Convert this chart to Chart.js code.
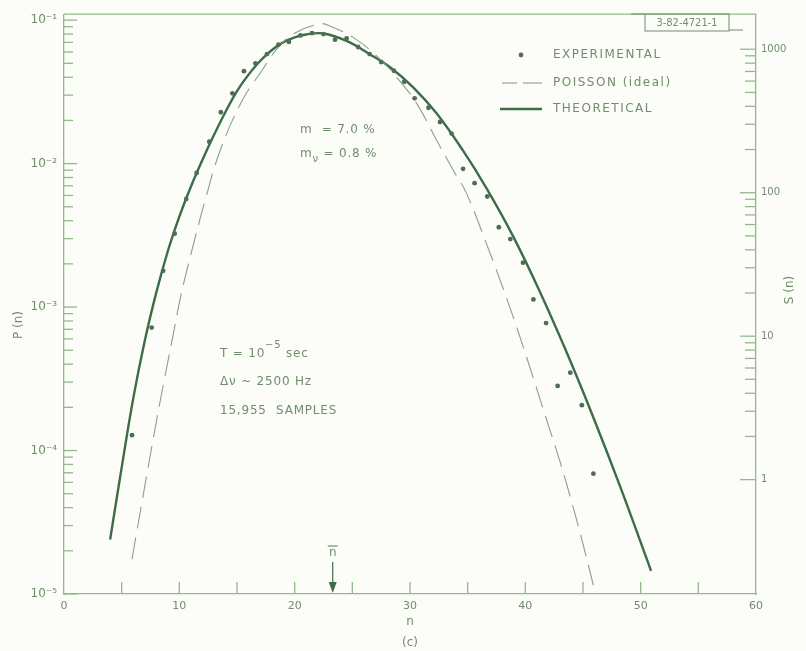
<!DOCTYPE html>
<html>
<head>
<meta charset="UTF-8">
<title>P(n) - photocount distribution</title>
<script src="https://cdn.jsdelivr.net/npm/chart.js"></script>
<style>
  html, body { margin: 0; padding: 0; background: #fcfdf9; }
</style>
</head>
<body>
<canvas id="pn" width="806" height="651"></canvas>
<script>
// values
const samples = 15955;
const nBar = 23.3;

const expN = [5.9, 7.6, 8.6, 9.6, 10.6, 11.5, 12.6, 13.6, 14.6, 15.6, 16.6, 17.6, 18.6, 19.5, 20.5,
  21.5, 22.5, 23.5, 24.5, 25.5, 26.5, 27.5, 28.6, 29.5, 30.4, 31.6, 32.6, 33.6, 34.6, 35.6,
  36.7, 37.7, 38.7, 39.8, 40.7, 41.8, 42.8, 43.9, 44.9, 45.9];
const expP = [1.28e-4, 7.2e-4, 1.79e-3, 3.25e-3, 5.67e-3, 8.6e-3, 1.42e-2, 2.28e-2, 3.09e-2, 4.41e-2,
  4.99e-2, 5.8e-2, 6.76e-2, 7.05e-2, 7.83e-2, 8.13e-2, 8.0e-2, 7.31e-2, 7.45e-2, 6.5e-2,
  5.8e-2, 5.1e-2, 4.44e-2, 3.72e-2, 2.85e-2, 2.45e-2, 1.95e-2, 1.62e-2, 9.2e-3, 7.3e-3,
  5.9e-3, 3.6e-3, 2.98e-3, 2.04e-3, 1.13e-3, 7.74e-4, 2.82e-4, 3.49e-4, 2.07e-4, 6.9e-5];

const theoN = [4.0, 5.0, 6.0, 7.0, 8.0, 9.0, 10.0, 11.0, 12.0, 13.0, 14.0, 15.0, 16.0, 17.0, 18.0,
  19.0, 20.0, 21.0, 22.5, 24.5, 26.5, 28.3, 30.3, 32.3, 34.6, 36.6, 38.9, 41.3, 43.6, 45.9, 48.3, 50.9];
const theoP = [2.4e-5, 7.6e-5, 2.3e-4, 5.8e-4, 1.26e-3, 2.45e-3, 4.27e-3, 6.9e-3, 1.06e-2, 1.58e-2,
  2.29e-2, 3.2e-2, 4.17e-2, 5.19e-2, 6.17e-2, 7.0e-2, 7.59e-2, 7.94e-2, 8.07e-2, 7.16e-2,
  5.79e-2, 4.68e-2, 3.39e-2, 2.24e-2, 1.23e-2, 6.8e-3, 3.16e-3, 1.26e-3, 4.8e-4, 1.7e-4, 5.4e-5, 1.45e-5];

const poissonN = [5.9, 6.2, 7.8, 8.6, 9.5, 10.1, 11.1, 12.25, 13.55, 15.45, 17.15, 18.45, 19.9, 22.2,
  23.1, 25.1, 27.1, 28.85, 30.6, 32.3, 33.75, 34.9, 36.6, 38.4, 40.1, 41.8, 43.0, 43.85, 45.0, 45.9];
const poissonP = [1.75e-5, 2.42e-5, 1.29e-4, 2.84e-4, 6.6e-4, 1.17e-3, 2.5e-3, 5.6e-3, 1.24e-2, 2.75e-2,
  4.44e-2, 6.27e-2, 8.04e-2, 9.42e-2, 9.08e-2, 7.55e-2, 5.64e-2, 3.99e-2, 2.61e-2, 1.46e-2,
  9.0e-3, 6.2e-3, 2.8e-3, 1.14e-3, 4.5e-4, 1.68e-4, 8.4e-5, 4.9e-5, 2.23e-5, 1.15e-5];

const pMin = 1e-5, pMax = 0.11;

const frame = '#93b98b';
const ink = '#718d6c';
const curve = '#3f6c48';
const dashed = '#86a186';
const dots = '#4f6d55';
const font = '"DejaVu Sans", sans-serif';

const isDecade = v => Math.abs(Math.log10(v) - Math.round(Math.log10(v))) < 1e-6;
const supDigits = { '-': '\u207B', '0': '\u2070', '1': '\u00B9', '2': '\u00B2', '3': '\u00B3', '4': '\u2074', '5': '\u2075' };
const powLabel = v => '10' + String(Math.round(Math.log10(v))).split('').map(c => supDigits[c]).join('');

function runs(ctx, x, y, parts) {
  let cx = x;
  for (const [t, dy, size] of parts) {
    ctx.font = size + 'px ' + font;
    ctx.fillText(t, cx, y + dy);
    cx += ctx.measureText(t).width;
  }
}

const paperMarks = {
  id: 'paperMarks',
  afterDraw(chart) {
    const { ctx, chartArea: a, scales: { x, y, y1 } } = chart;
    ctx.save();
    ctx.strokeStyle = frame;
    ctx.lineWidth = 1.3;
    const seg = (x0, y0, x1, y2) => { ctx.beginPath(); ctx.moveTo(x0, y0); ctx.lineTo(x1, y2); ctx.stroke(); };

    // top edge of the frame
    seg(a.left, a.top, a.right, a.top);

    // inward ticks, P(n) axis
    for (let e = -5; e <= -1; e++) {
      for (let k = 1; k <= 9; k++) {
        const v = k * Math.pow(10, e);
        if (v > pMax || (e === -1 && k > 1)) continue;
        const py = y.getPixelForValue(v);
        seg(a.left, py, a.left + (k === 1 ? 13 : 9), py);
      }
    }
    // inward ticks, S(n) axis
    for (let e = 0; e <= 3; e++) {
      for (let k = 1; k <= 9; k++) {
        if (e === 3 && k > 1) continue;
        const py = y1.getPixelForValue(k * Math.pow(10, e));
        seg(a.right - (k === 1 ? 16 : 11), py, a.right, py);
      }
    }
    // ticks on n axis
    for (let n = 5; n < 60; n += 5) {
      const px = x.getPixelForValue(n);
      seg(px, a.bottom, px, a.bottom - 12);
    }

    // n-bar arrow
    const bx = x.getPixelForValue(nBar);
    ctx.strokeStyle = curve;
    ctx.fillStyle = curve;
    ctx.lineWidth = 1.2;
    seg(bx, a.bottom - 32, bx, a.bottom - 6);
    ctx.beginPath();
    ctx.moveTo(bx - 4, a.bottom - 12);
    ctx.lineTo(bx + 4, a.bottom - 12);
    ctx.lineTo(bx, a.bottom - 1);
    ctx.closePath();
    ctx.fill();
    ctx.fillStyle = ink;
    ctx.strokeStyle = ink;
    ctx.font = '12px ' + font;
    ctx.textAlign = 'center';
    ctx.textBaseline = 'middle';
    ctx.fillText('n', bx, a.bottom - 41);
    seg(bx - 5, a.bottom - 48, bx + 5, a.bottom - 48);

    // axis titles
    ctx.save();
    ctx.translate(19, 325);
    ctx.rotate(-Math.PI / 2);
    ctx.font = '12px ' + font;
    ctx.fillText('P (n)', 0, 0);
    ctx.restore();
    ctx.save();
    ctx.translate(790, 290);
    ctx.rotate(-Math.PI / 2);
    ctx.font = '12px ' + font;
    ctx.fillText('S (n)', 0, 0);
    ctx.restore();

    // legend
    ctx.textAlign = 'left';
    ctx.letterSpacing = '1.5px';
    ctx.fillStyle = dots;
    ctx.beginPath();
    ctx.arc(521, 55, 2.4, 0, Math.PI * 2);
    ctx.fill();
    ctx.strokeStyle = dashed;
    ctx.lineWidth = 1.1;
    seg(502, 83, 517, 83);
    seg(523, 83, 542, 83);
    ctx.strokeStyle = curve;
    ctx.lineWidth = 2.4;
    seg(500, 109, 542, 109);
    ctx.fillStyle = ink;
    ctx.font = '12px ' + font;
    ctx.fillText('EXPERIMENTAL', 553, 55);
    ctx.fillText('POISSON (ideal)', 553, 83);
    ctx.fillText('THEORETICAL', 553, 109);

    // notes
    ctx.letterSpacing = '0.8px';
    runs(ctx, 300, 130, [['m  = 7.0 %', 0, 12]]);
    runs(ctx, 300, 154, [['m', 0, 12], ['\u03BD', 5, 10], [' = 0.8 %', 0, 12]]);
    runs(ctx, 220, 354, [['T = 10', 0, 12], ['\u22125', -9, 10], [' sec', 0, 12]]);
    runs(ctx, 220, 382, [['\u0394\u03BD ~ 2500 Hz', 0, 12]]);
    runs(ctx, 220, 411, [['15,955  SAMPLES', 0, 12]]);

    // drawing number box
    ctx.letterSpacing = '0px';
    ctx.strokeStyle = ink;
    ctx.lineWidth = 1;
    ctx.strokeRect(645, 14, 84, 17);
    seg(631, 14, 645, 14);
    seg(729, 30, 743, 30);
    ctx.font = '11px "Liberation Sans Narrow", "DejaVu Sans Condensed", sans-serif';
    ctx.textAlign = 'center';
    ctx.fillText('3-82-4721-1', 687, 23);
    ctx.restore();
  }
};

new Chart(document.getElementById('pn'), {
  type: 'scatter',
  data: {
    datasets: [
      {
        label: 'EXPERIMENTAL',
        data: expN.map((n, i) => ({ x: n, y: expP[i] })),
        showLine: false,
        pointRadius: 2.4,
        pointBackgroundColor: dots,
        pointBorderWidth: 0,
        yAxisID: 'y'
      },
      {
        label: 'POISSON (ideal)',
        data: poissonN.map((n, i) => ({ x: n, y: poissonP[i] })),
        showLine: true,
        borderColor: dashed,
        borderWidth: 1.1,
        borderDash: [22, 9],
        pointRadius: 0,
        tension: 0.4,
        yAxisID: 'y'
      },
      {
        label: 'THEORETICAL',
        data: theoN.map((n, i) => ({ x: n, y: theoP[i] })),
        showLine: true,
        borderColor: curve,
        borderWidth: 2.4,
        pointRadius: 0,
        tension: 0.4,
        yAxisID: 'y'
      }
    ]
  },
  options: {
    responsive: false,
    animation: false,
    layout: { padding: { top: 11, left: 0, right: 0, bottom: 0 } },
    plugins: { legend: { display: false }, tooltip: { enabled: false } },
    scales: {
      x: {
        type: 'linear',
        position: 'bottom',
        min: 0,
        max: 60,
        afterFit: s => { s.height = 57; },
        grid: { display: false, drawTicks: false },
        border: { color: frame, width: 1.3 },
        ticks: { stepSize: 10, padding: 6, color: ink, font: { family: font, size: 11 } },
        title: { display: true, text: ['n', '(c)'], color: ink, padding: { top: 0, bottom: -2 }, font: { family: font, size: 12, lineHeight: 1.75 } }
      },
      y: {
        type: 'logarithmic',
        position: 'left',
        min: pMin,
        max: pMax,
        afterFit: s => { s.width = 64; },
        grid: { display: false, drawTicks: false },
        border: { color: frame, width: 1.3 },
        ticks: {
          autoSkip: false,
          padding: 7,
          color: ink,
          font: { family: font, size: 12 },
          callback: v => isDecade(v) ? powLabel(v) : ''
        }
      },
      y1: {
        type: 'logarithmic',
        position: 'right',
        min: pMin * samples,
        max: pMax * samples,
        afterFit: s => { s.width = 50; },
        grid: { display: false, drawTicks: false },
        border: { color: frame, width: 1.3 },
        ticks: {
          autoSkip: false,
          padding: 5,
          color: ink,
          font: { family: font, size: 10 },
          callback: v => (isDecade(v) && v >= 1) ? String(Math.round(v)) : ''
        }
      }
    }
  },
  plugins: [paperMarks]
});
</script>
</body>
</html>
